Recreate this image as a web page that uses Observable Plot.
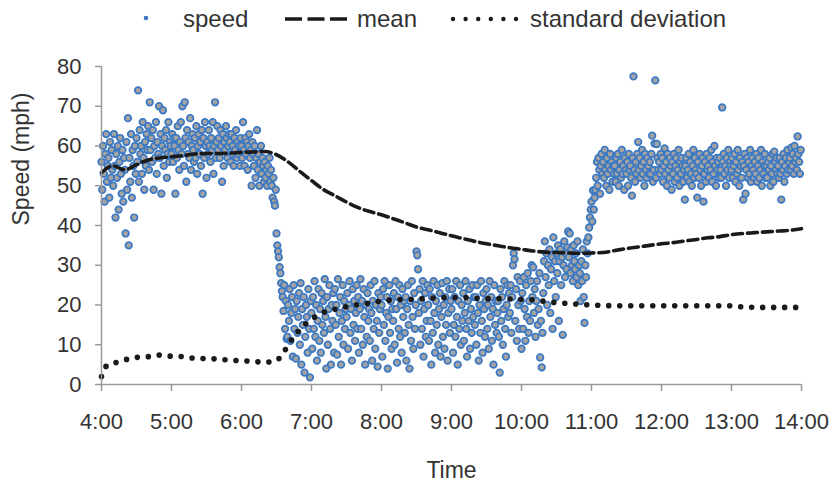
<!DOCTYPE html>
<html><head><meta charset="utf-8">
<script src="https://cdn.jsdelivr.net/npm/d3@7"></script>
<script src="https://cdn.jsdelivr.net/npm/@observablehq/plot@0.6"></script>
<style>
body{margin:0;background:#fff;font-family:"Liberation Sans",Arial,sans-serif;}
#legend{position:relative;width:837px;height:44px;}
#legend span{position:absolute;top:5px;font-size:24px;color:#333;line-height:28px;white-space:nowrap}
#chart svg{display:block}
</style></head><body>
<div id="legend"></div>
<div id="chart"></div>
<script>
// ---- data ----
const seriesNames = ["speed", "mean", "standard deviation"];
const xLabel = "Time";
const yLabel = "Speed (mph)";
const sampleSeconds = 40; // one reading every 40 s within each hour
const speed04 = [56,49,60,53,46,58,63,51,55,57,47,61,52,59,54,
50,63,55,42,58,52,60,44,56,62,53,48,59,46,57,
54,38,61,49,67,35,57,51,63,47,59,55,42,60,53,
62,56,74,51,64,58,60,53,66,57,49,61,55,63,59,
65,54,71,59,62,56,64,49,60,57,66,53,61,58,70,
57,63,48,60,69,55,62,59,64,52,58,66,56,61,60];
const speed05 = [58,63,56,62,60,48,62,57,65,59,54,61,66,58,70,
60,55,71,62,51,64,58,61,57,67,54,60,63,59,56,
62,57,65,53,60,63,58,61,55,64,48,62,57,66,60,
52,61,58,64,60,56,62,59,66,53,60,71,57,61,65,
59,62,57,64,60,51,63,55,61,59,65,62,57,60,63,
61,56,63,58,60,55,62,59,64,57,61,58,60,55,62];
const speed06 = [60,57,66,59,55,62,58,61,54,60,63,57,59,50,61,
58,55,60,52,57,64,54,58,50,56,60,53,57,55,51,
56,52,54,50,55,53,57,51,54,50,47,52,46,45,49,
38,35,33.5,32,29.5,28,25.5,23.5,22,18.5,25,14,21,11.5,12,
20,16,24,11,18,22,7,25,14,19,6.5,21,13,17,23,
10,25.5,5,19,15,22,3,12,20,17,8,24,14,1.8,21];
const speed07 = [18,9,22,14,26,12,20,6,16,24,11,19,8,23,15,
21,13,26.5,17,4,22,10,19,25,14,5,20,16,23,8,
24,15,20,7.5,26.5,12,18,22,5,16,25,10,21,14,19,
17,23,9,20,26,13,19,6,24,15,21,11,18,25,14,
22,8,19,26.5,14,21,10,24,17,5,20,12,23,16,19,
11,25,18,6,21,14,26,9,20,16,4.5,23,13,19,22];
const speed08 = [20,7,24,15,26,11,18,22,4,17,25,13,21,9,19,
16,23,10,26,19,5.5,22,14,25,12,20,8,24,17,21,
13,22,6,19,25,15,4,21,11,26,17,9,23,14,20,
33.5,32.5,29,18,24,10,21,14,26,7,19,23,12,16,25,
20,11,24,16,5,22,13,26,18,8,21,15,25,10,19,
23,7,17,25.5,12,20,9,22,15,26,6,18,24,13,21];
const speed09 = [19,24,8,15,22,12,26,17,5,21,14,25,10,20,16,
23,11,18,26,14,7,21,16,24,9,19,13,25,17,22,
15,22,10,25,18,6,20,13,26,16,8,23,19,12,21,
24,14,20,9,26,17,22,11,19,5,25,15,21,13,18,
21,12,3,24,16,22,10,19,26,14,7,20,25,17,23,
18,25,13,22,30,33,31.5,16,24,11,27,20,14,26,21];
const speed10 = [9,23,14,27,19,11,25,17,28,13,21,16,26,30,22,
29.5,18,24,12,21,26,15,19,28,6.8,16,4.3,13,23,31,
36,27,33,20,30,25,34,18,29,32,14,37,26,31,22,
33,28,35,16,31,34,25,32,12.5,30,36,27,33,29,34.5,
38.5,32,38,28,34,30,26,35,31,29,33,27,36,25,30,
28,21,31,26,34,22,15.5,30,27,36,33,37,39.5,42,44];
const speed11 = [46,41,48.8,44,47,49,52,56,50,57,54,48,55,58,53,
56,52,59,54,50,57,53,55,49,58,54,56,51,55,53,
55,51,57,53,58,50,54,56,52,59,53,55,49,57,54,
53,56,50,58,54,55,52,47.5,57,77.5,54,51,56,53,58,
61,54,57,52,55,59,53,56,50,58,54,52,57,55,53,
56,53,58,62.6,51,54,60.6,76.5,52,60.5,57,54,56,53,58];
const speed12 = [54,57,51,55,59.4,53,56,50,58,54,52,57,55,49,56,
53,58,51,55,57,52,54,59,50,56,53,57,55,51,54,
46.5,55,57,52,54,58,51,56,53,50,55,59,52,57,54,
53,47,56,52,58,54,50,55,57,46,53,56,51,58,54,
55,52,57,54,59,51,56,53,60,55,50,57,54,56,52,
57,54,52,69.7,56,58,53,55,50,57,54,59,52,56,55];
const speed13 = [54,57,52,55,58,51,56,53,59,54,50,57,55,52,56,
46.5,55,58,48,54,57,52,56,53,59,51,55,57,54,52,
56,53,58,51,55,57,52,54,59,50,56,53,55,58,52,
55,52,56,54,57,50,55,53,58,51,58.6,56,54,57,53,
55,52,57,53,46.5,56,54,58,51,55,57,53,59,54,56,
57,54,59.6,55,58,53,60,56,57,54,62.4,58,56,53,59];
const speedByHour = [[4,speed04],[5,speed05],[6,speed06],[7,speed07],[8,speed08],[9,speed09],[10,speed10],[11,speed11],[12,speed12],[13,speed13]];

// running mean (minutes after 4:00)
const meanMinutes = [0,10,20,30,40,50,60,70,80,90,100,110,120,130,140,150,160,170,180,190,200,210,220,230,240,250,260,270,280,290,300,310,320,330,340,350,360,370,380,390,400,410,420,430,440,450,460,470,480,490,500,510,520,530,540,550,560,570,580,590,600];
const meanValues = [53.3,55.0,54.0,55.3,56.5,57.0,57.3,57.6,58.0,58.1,58.1,58.2,58.4,58.5,58.6,57.8,56.0,53.6,51.3,49.1,47.5,45.9,44.5,43.5,42.7,41.7,40.7,39.6,38.9,38.2,37.4,36.7,36.0,35.4,34.9,34.4,34.0,33.6,33.3,33.2,33.1,33.0,33.1,33.2,33.7,34.2,34.6,35.0,35.4,35.7,36.1,36.5,36.9,37.2,37.7,38.0,38.2,38.4,38.6,38.8,39.2];
// standard deviation
const stdMinutes = [0,3,6,10,20,30,40,50,60,70,80,90,100,110,120,130,140,148,155,160,170,180,190,200,210,220,230,240,250,260,270,280,290,300,310,320,330,340,350,360,370,380,390,400,410,420,430,440,500,540,550,560,600];
const stdValues = [2.0,4.2,5.0,5.3,6.2,6.8,7.0,7.4,7.1,7.0,6.6,6.5,6.4,6.1,6.0,5.8,5.6,5.8,7.5,10.0,13.8,16.4,18.1,18.9,19.6,20.1,20.5,21.0,21.3,21.4,21.5,21.7,21.8,21.9,21.9,21.7,21.6,21.6,21.5,21.4,21.3,20.9,20.6,20.4,20.2,20.0,19.9,19.8,19.8,19.8,19.5,19.4,19.4];

const xTickHours = [4,5,6,7,8,9,10,11,12,13,14];
const xTickLabels = ["4:00","5:00","6:00","7:00","8:00","9:00","10:00","11:00","12:00","13:00","14:00"];
const yTicks = [0,10,20,30,40,50,60,70,80];

// ---- tables ----
const points = speedByHour.flatMap(([h, arr]) => arr.map((v, j) => ({t: h + j * sampleSeconds / 3600, v})));
const meanData = meanMinutes.map((m, i) => ({t: 4 + m / 60, v: meanValues[i]}));
const stdData = stdMinutes.map((m, i) => ({t: 4 + m / 60, v: stdValues[i]}));

const blue = "#3a78c3", grey = "#a3a3a3", ink = "#1a1a1a", axisGrey = "#9a9a9a", textCol = "#333";

// ---- legend ----
const legend = document.getElementById("legend");
legend.innerHTML = `
<svg width="837" height="44" style="position:absolute;left:0;top:0">
 <circle cx="146" cy="18" r="2.3" fill="${blue}"/>
 <line x1="285" x2="351" y1="19" y2="19" stroke="${ink}" stroke-width="3.6" stroke-dasharray="17,5.5"/>
 <line x1="453" x2="516" y1="19" y2="19" stroke="${ink}" stroke-width="4.4" stroke-dasharray="0,12.6" stroke-linecap="round"/>
</svg>
<span style="left:183px">${seriesNames[0]}</span>
<span style="left:357px">${seriesNames[1]}</span>
<span style="left:530px">${seriesNames[2]}</span>`;

// ---- chart ----
const chart = Plot.plot({
  width: 837, height: 443,
  marginTop: 22, marginBottom: 103, marginLeft: 101, marginRight: 36,
  style: {fontFamily: "'Liberation Sans', Arial, sans-serif", fontSize: "22px", color: textCol, background: "#fff", overflow: "visible"},
  x: {domain: [4, 14]},
  y: {domain: [0, 80]},
  marks: [
    Plot.dot(points, {x: "t", y: "v", r: 3.3, fill: grey, stroke: blue, strokeWidth: 1.7}),
    Plot.line(meanData, {x: "t", y: "v", stroke: ink, strokeWidth: 3.6, strokeDasharray: "10,5", curve: "monotone-x"}),
    Plot.line(stdData, {x: "t", y: "v", stroke: ink, strokeWidth: 5.6, strokeDasharray: "0,11", strokeLinecap: "round", curve: "monotone-x"}),
    Plot.ruleX([4], {y1: 0, y2: 80, stroke: axisGrey, strokeWidth: 1.5}),
    Plot.ruleY([0], {x1: 4, x2: 14, stroke: axisGrey, strokeWidth: 1.5}),
    Plot.axisX({ticks: xTickHours, tickFormat: (d) => xTickLabels[xTickHours.indexOf(d)], tickSize: 7, tickPadding: 22, stroke: axisGrey, fill: textCol, strokeWidth: 1.5, label: null}),
    Plot.axisY({ticks: yTicks, tickSize: 6, tickPadding: 14, stroke: axisGrey, fill: textCol, strokeWidth: 1.5, label: null}),
    Plot.text([xLabel], {text: (d) => d, frameAnchor: "bottom", dy: 93, lineAnchor: "bottom", fill: textCol, fontSize: 23}),
    Plot.text([yLabel], {text: (d) => d, frameAnchor: "left", dx: -80, rotate: -90, fill: textCol, fontSize: 23})
  ]
});
document.getElementById("chart").appendChild(chart);
</script>
</body></html>
